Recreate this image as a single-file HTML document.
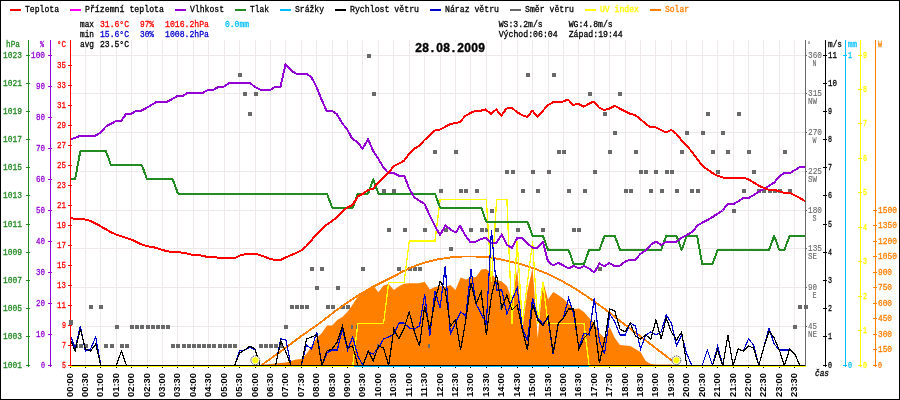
<!DOCTYPE html>
<html lang="cs"><head><meta charset="utf-8"><title>Graf 28.08.2009</title>
<style>html,body{margin:0;padding:0;background:#fff}svg{display:block}</style></head>
<body>
<svg width="900" height="400" viewBox="0 0 900 400">
<rect x="0" y="0" width="900" height="400" fill="#fff"/>
<g shape-rendering="crispEdges" stroke="#eee8e8" stroke-width="1">
<line x1="85.5" y1="40" x2="85.5" y2="365"/>
<line x1="100.5" y1="40" x2="100.5" y2="365"/>
<line x1="116.5" y1="40" x2="116.5" y2="365"/>
<line x1="131.5" y1="40" x2="131.5" y2="365"/>
<line x1="147.5" y1="40" x2="147.5" y2="365"/>
<line x1="162.5" y1="40" x2="162.5" y2="365"/>
<line x1="177.5" y1="40" x2="177.5" y2="365"/>
<line x1="193.5" y1="40" x2="193.5" y2="365"/>
<line x1="208.5" y1="40" x2="208.5" y2="365"/>
<line x1="224.5" y1="40" x2="224.5" y2="365"/>
<line x1="239.5" y1="40" x2="239.5" y2="365"/>
<line x1="255.5" y1="40" x2="255.5" y2="365"/>
<line x1="270.5" y1="40" x2="270.5" y2="365"/>
<line x1="285.5" y1="40" x2="285.5" y2="365"/>
<line x1="301.5" y1="40" x2="301.5" y2="365"/>
<line x1="316.5" y1="40" x2="316.5" y2="365"/>
<line x1="332.5" y1="40" x2="332.5" y2="365"/>
<line x1="347.5" y1="40" x2="347.5" y2="365"/>
<line x1="362.5" y1="40" x2="362.5" y2="365"/>
<line x1="378.5" y1="40" x2="378.5" y2="365"/>
<line x1="393.5" y1="40" x2="393.5" y2="365"/>
<line x1="409.5" y1="40" x2="409.5" y2="365"/>
<line x1="424.5" y1="40" x2="424.5" y2="365"/>
<line x1="440.5" y1="40" x2="440.5" y2="365"/>
<line x1="455.5" y1="40" x2="455.5" y2="365"/>
<line x1="470.5" y1="40" x2="470.5" y2="365"/>
<line x1="486.5" y1="40" x2="486.5" y2="365"/>
<line x1="501.5" y1="40" x2="501.5" y2="365"/>
<line x1="517.5" y1="40" x2="517.5" y2="365"/>
<line x1="532.5" y1="40" x2="532.5" y2="365"/>
<line x1="548.5" y1="40" x2="548.5" y2="365"/>
<line x1="563.5" y1="40" x2="563.5" y2="365"/>
<line x1="578.5" y1="40" x2="578.5" y2="365"/>
<line x1="594.5" y1="40" x2="594.5" y2="365"/>
<line x1="609.5" y1="40" x2="609.5" y2="365"/>
<line x1="625.5" y1="40" x2="625.5" y2="365"/>
<line x1="640.5" y1="40" x2="640.5" y2="365"/>
<line x1="655.5" y1="40" x2="655.5" y2="365"/>
<line x1="671.5" y1="40" x2="671.5" y2="365"/>
<line x1="686.5" y1="40" x2="686.5" y2="365"/>
<line x1="702.5" y1="40" x2="702.5" y2="365"/>
<line x1="717.5" y1="40" x2="717.5" y2="365"/>
<line x1="733.5" y1="40" x2="733.5" y2="365"/>
<line x1="748.5" y1="40" x2="748.5" y2="365"/>
<line x1="763.5" y1="40" x2="763.5" y2="365"/>
<line x1="779.5" y1="40" x2="779.5" y2="365"/>
<line x1="794.5" y1="40" x2="794.5" y2="365"/>
<line x1="71" y1="326.5" x2="805" y2="326.5"/>
<line x1="71" y1="287.5" x2="805" y2="287.5"/>
<line x1="71" y1="248.5" x2="805" y2="248.5"/>
<line x1="71" y1="210.5" x2="805" y2="210.5"/>
<line x1="71" y1="171.5" x2="805" y2="171.5"/>
<line x1="71" y1="132.5" x2="805" y2="132.5"/>
<line x1="71" y1="93.5" x2="805" y2="93.5"/>
<line x1="71" y1="55.5" x2="805" y2="55.5"/>
</g>
<rect x="413" y="42" width="73" height="11" fill="#fff"/>
<g fill="#696969" shape-rendering="crispEdges">
<rect x="69" y="320" width="4" height="5"/>
<rect x="74" y="344" width="4" height="4"/>
<rect x="79" y="344" width="4" height="4"/>
<rect x="84" y="344" width="4" height="4"/>
<rect x="89" y="305" width="4" height="4"/>
<rect x="99" y="305" width="4" height="4"/>
<rect x="104" y="344" width="4" height="4"/>
<rect x="110" y="344" width="4" height="4"/>
<rect x="115" y="325" width="4" height="4"/>
<rect x="120" y="344" width="4" height="4"/>
<rect x="125" y="344" width="4" height="4"/>
<rect x="130" y="325" width="4" height="4"/>
<rect x="135" y="325" width="4" height="4"/>
<rect x="140" y="325" width="4" height="4"/>
<rect x="146" y="325" width="4" height="4"/>
<rect x="151" y="325" width="4" height="4"/>
<rect x="156" y="325" width="4" height="4"/>
<rect x="161" y="325" width="4" height="4"/>
<rect x="166" y="325" width="4" height="4"/>
<rect x="171" y="344" width="4" height="4"/>
<rect x="176" y="344" width="4" height="4"/>
<rect x="182" y="344" width="4" height="4"/>
<rect x="187" y="344" width="4" height="4"/>
<rect x="192" y="344" width="4" height="4"/>
<rect x="197" y="344" width="4" height="4"/>
<rect x="202" y="344" width="4" height="4"/>
<rect x="207" y="344" width="4" height="4"/>
<rect x="212" y="344" width="4" height="4"/>
<rect x="218" y="344" width="4" height="4"/>
<rect x="223" y="344" width="4" height="4"/>
<rect x="228" y="344" width="4" height="4"/>
<rect x="233" y="344" width="4" height="4"/>
<rect x="238" y="73" width="4" height="4"/>
<rect x="243" y="92" width="4" height="4"/>
<rect x="248" y="112" width="4" height="4"/>
<rect x="254" y="92" width="4" height="4"/>
<rect x="259" y="344" width="4" height="4"/>
<rect x="264" y="344" width="4" height="4"/>
<rect x="269" y="344" width="4" height="4"/>
<rect x="274" y="344" width="4" height="4"/>
<rect x="279" y="344" width="4" height="4"/>
<rect x="284" y="325" width="4" height="4"/>
<rect x="290" y="305" width="4" height="4"/>
<rect x="295" y="305" width="4" height="4"/>
<rect x="300" y="305" width="4" height="4"/>
<rect x="305" y="305" width="4" height="4"/>
<rect x="310" y="267" width="4" height="4"/>
<rect x="315" y="286" width="4" height="4"/>
<rect x="320" y="267" width="4" height="4"/>
<rect x="326" y="305" width="4" height="4"/>
<rect x="331" y="305" width="4" height="4"/>
<rect x="336" y="286" width="4" height="4"/>
<rect x="341" y="305" width="4" height="4"/>
<rect x="346" y="305" width="4" height="4"/>
<rect x="351" y="325" width="4" height="4"/>
<rect x="356" y="325" width="4" height="4"/>
<rect x="361" y="267" width="4" height="4"/>
<rect x="367" y="54" width="4" height="4"/>
<rect x="372" y="92" width="4" height="4"/>
<rect x="377" y="344" width="4" height="4"/>
<rect x="382" y="189" width="4" height="4"/>
<rect x="387" y="228" width="4" height="4"/>
<rect x="392" y="189" width="4" height="4"/>
<rect x="397" y="267" width="4" height="4"/>
<rect x="403" y="228" width="4" height="4"/>
<rect x="408" y="267" width="4" height="4"/>
<rect x="413" y="267" width="4" height="4"/>
<rect x="418" y="267" width="4" height="4"/>
<rect x="423" y="228" width="4" height="4"/>
<rect x="428" y="344" width="4" height="4"/>
<rect x="433" y="150" width="4" height="4"/>
<rect x="439" y="189" width="4" height="4"/>
<rect x="444" y="228" width="4" height="4"/>
<rect x="449" y="247" width="4" height="4"/>
<rect x="454" y="150" width="4" height="4"/>
<rect x="459" y="189" width="4" height="4"/>
<rect x="464" y="189" width="4" height="4"/>
<rect x="469" y="228" width="4" height="4"/>
<rect x="475" y="189" width="4" height="4"/>
<rect x="480" y="228" width="4" height="4"/>
<rect x="485" y="228" width="4" height="4"/>
<rect x="490" y="209" width="4" height="4"/>
<rect x="495" y="228" width="4" height="4"/>
<rect x="500" y="305" width="4" height="4"/>
<rect x="505" y="170" width="4" height="4"/>
<rect x="511" y="170" width="4" height="4"/>
<rect x="516" y="228" width="4" height="4"/>
<rect x="521" y="189" width="4" height="4"/>
<rect x="526" y="73" width="4" height="4"/>
<rect x="531" y="170" width="4" height="4"/>
<rect x="536" y="189" width="4" height="4"/>
<rect x="541" y="228" width="4" height="4"/>
<rect x="547" y="170" width="4" height="4"/>
<rect x="552" y="73" width="4" height="4"/>
<rect x="557" y="150" width="4" height="4"/>
<rect x="562" y="150" width="4" height="4"/>
<rect x="567" y="189" width="4" height="4"/>
<rect x="572" y="228" width="4" height="4"/>
<rect x="577" y="228" width="4" height="4"/>
<rect x="583" y="189" width="4" height="4"/>
<rect x="588" y="92" width="4" height="4"/>
<rect x="593" y="170" width="4" height="4"/>
<rect x="598" y="267" width="4" height="4"/>
<rect x="603" y="112" width="4" height="4"/>
<rect x="608" y="150" width="4" height="4"/>
<rect x="613" y="131" width="4" height="4"/>
<rect x="618" y="92" width="4" height="4"/>
<rect x="624" y="189" width="4" height="4"/>
<rect x="629" y="189" width="4" height="4"/>
<rect x="634" y="150" width="4" height="4"/>
<rect x="639" y="170" width="4" height="4"/>
<rect x="644" y="170" width="4" height="4"/>
<rect x="649" y="189" width="4" height="4"/>
<rect x="654" y="170" width="4" height="4"/>
<rect x="660" y="189" width="4" height="4"/>
<rect x="665" y="170" width="4" height="4"/>
<rect x="670" y="170" width="4" height="4"/>
<rect x="675" y="189" width="4" height="4"/>
<rect x="680" y="150" width="4" height="4"/>
<rect x="685" y="131" width="4" height="4"/>
<rect x="690" y="189" width="4" height="4"/>
<rect x="696" y="189" width="4" height="4"/>
<rect x="701" y="131" width="4" height="4"/>
<rect x="706" y="112" width="4" height="4"/>
<rect x="711" y="150" width="4" height="4"/>
<rect x="716" y="170" width="4" height="4"/>
<rect x="721" y="131" width="4" height="4"/>
<rect x="726" y="150" width="4" height="4"/>
<rect x="732" y="209" width="4" height="4"/>
<rect x="737" y="112" width="4" height="4"/>
<rect x="742" y="189" width="4" height="4"/>
<rect x="747" y="150" width="4" height="4"/>
<rect x="752" y="170" width="4" height="4"/>
<rect x="757" y="189" width="4" height="4"/>
<rect x="762" y="189" width="4" height="4"/>
<rect x="768" y="189" width="4" height="4"/>
<rect x="773" y="189" width="4" height="4"/>
<rect x="778" y="189" width="4" height="4"/>
<rect x="783" y="150" width="4" height="4"/>
<rect x="788" y="189" width="4" height="4"/>
<rect x="793" y="325" width="4" height="4"/>
<rect x="798" y="305" width="4" height="4"/>
<rect x="804" y="305" width="4" height="4"/>
</g>
<polygon points="260.18,366.00 260.18,365.00 265.32,364.50 270.46,364.00 275.60,363.50 280.74,363.00 285.88,362.50 291.02,361.00 296.16,359.50 301.30,359.00 306.44,354.00 311.58,346.00 316.72,338.00 321.86,333.00 327.00,325.60 332.14,325.60 337.28,320.00 342.42,317.00 347.56,311.75 352.70,304.50 357.84,296.75 362.98,292.25 368.12,288.50 373.26,285.50 378.40,292.25 383.54,285.50 388.68,284.00 393.82,290.00 398.96,286.25 404.10,283.70 409.24,283.25 414.38,283.25 419.52,283.25 424.66,281.75 429.80,289.40 434.94,287.00 440.08,286.00 445.22,287.00 450.36,285.00 455.50,290.00 460.64,277.50 465.78,279.40 470.92,277.50 476.06,277.00 481.20,269.40 486.34,269.00 491.48,273.00 496.62,280.00 501.76,281.50 506.90,286.00 512.04,300.00 517.18,269.50 522.32,329.50 527.46,290.50 532.60,268.00 537.74,338.50 542.88,280.75 548.02,299.50 553.16,292.00 558.30,295.00 563.44,298.75 568.58,304.00 573.72,309.00 578.86,308.50 584.00,312.00 589.14,318.00 594.28,323.00 599.42,333.00 604.56,338.00 609.70,327.00 614.84,338.00 619.98,345.00 625.12,345.50 630.26,346.00 635.40,349.00 640.54,352.00 645.68,361.00 650.82,364.00 655.96,364.50 661.10,364.50 666.24,364.50 671.38,364.50 676.52,365.50 676.52,366.00" fill="#ff7f00"/>
<g fill="#696969" shape-rendering="crispEdges"><rect x="351" y="325" width="2" height="4"/><rect x="356" y="325" width="2" height="4"/><rect x="377" y="344" width="2" height="5"/><rect x="428" y="344" width="2" height="4"/><rect x="500" y="305" width="2" height="4"/></g>
<rect x="70" y="366" width="736" height="1" fill="#00bfff" shape-rendering="crispEdges"/>
<polyline points="261.00,365.50 280.00,352.00 300.00,337.00 320.00,323.00 335.00,311.25 347.50,302.50 360.00,294.25 372.50,287.00 385.00,280.75 397.50,274.50 400.00,272.70 412.50,266.90 425.00,262.50 437.50,259.40 450.00,257.50 462.50,256.50 475.00,256.50 487.50,257.25 497.50,258.75 510.00,261.50 522.50,264.70 535.00,268.75 547.50,273.75 560.00,280.00 572.50,287.00 585.00,295.00 597.50,303.75 610.00,313.00 620.00,321.00 640.00,336.00 660.00,351.50 676.50,364.00" fill="none" stroke="#ff7f00" stroke-width="1.9" shape-rendering="crispEdges"/>
<polyline points="70.00,366.00 75.14,366.00 80.28,366.00 85.42,366.00 90.56,366.00 95.70,366.00 100.84,366.00 105.98,366.00 111.12,366.00 116.26,366.00 121.40,366.00 126.54,366.00 131.68,366.00 136.82,366.00 141.96,366.00 147.10,366.00 152.24,366.00 157.38,366.00 162.52,366.00 167.66,366.00 172.80,366.00 177.94,366.00 183.08,366.00 188.22,366.00 193.36,366.00 198.50,366.00 203.64,366.00 208.78,366.00 213.92,366.00 219.06,366.00 224.20,366.00 229.34,366.00 234.48,366.00 239.62,366.00 244.76,366.00 249.90,366.00 255.04,366.00 260.18,366.00 265.32,366.00 270.46,366.00 275.60,366.00 280.74,366.00 285.88,366.00 291.02,366.00 296.16,366.00 301.30,366.00 306.44,366.00 311.58,366.00 316.72,366.00 321.86,366.00 327.00,366.00 332.14,366.00 337.28,366.00 342.42,366.00 347.56,366.00 352.70,366.00 357.84,323.67 362.98,323.67 368.12,323.67 373.26,323.67 378.40,323.67 383.54,323.67 388.68,282.34 393.82,282.34 398.96,282.34 404.10,282.34 409.24,241.01 414.38,241.01 419.52,241.01 424.66,241.01 429.80,241.01 434.94,241.01 440.08,199.68 445.22,199.68 450.36,199.68 455.50,199.68 460.64,199.68 465.78,199.68 470.92,199.68 476.06,199.68 481.20,199.68 486.34,199.68 491.48,282.34 496.62,199.68 501.76,199.68 506.90,199.68 512.04,323.67 517.18,241.01 522.32,323.67 527.46,282.34 532.60,241.01 537.74,323.67 542.88,282.34 548.02,323.67 553.16,323.67 558.30,323.67 563.44,323.67 568.58,323.67 573.72,323.67 578.86,323.67 584.00,323.67 589.14,366.00 594.28,366.00 599.42,366.00 604.56,366.00 609.70,366.00 614.84,366.00 619.98,366.00 625.12,366.00 630.26,366.00 635.40,366.00 640.54,366.00 645.68,366.00 650.82,366.00 655.96,366.00 661.10,366.00 666.24,366.00 671.38,366.00 676.52,366.00 681.66,366.00 686.80,366.00 691.94,366.00 697.08,366.00 702.22,366.00 707.36,366.00 712.50,366.00 717.64,366.00 722.78,366.00 727.92,366.00 733.06,366.00 738.20,366.00 743.34,366.00 748.48,366.00 753.62,366.00 758.76,366.00 763.90,366.00 769.04,366.00 774.18,366.00 779.32,366.00 784.46,366.00 789.60,366.00 794.74,366.00 799.88,366.00 805.02,366.00" fill="none" stroke="#ffff00" stroke-width="1.3" stroke-linejoin="miter" shape-rendering="crispEdges"/>
<polyline points="70.00,179.46 75.14,179.46 80.28,151.28 85.42,151.28 90.56,151.28 95.70,151.28 100.84,151.28 105.98,151.28 111.12,165.37 116.26,165.37 121.40,165.37 126.54,165.37 131.68,165.37 136.82,165.37 141.96,165.37 147.10,179.46 152.24,179.46 157.38,179.46 162.52,179.46 167.66,179.46 172.80,179.46 177.94,193.55 183.08,193.55 188.22,193.55 193.36,193.55 198.50,193.55 203.64,193.55 208.78,193.55 213.92,193.55 219.06,193.55 224.20,193.55 229.34,193.55 234.48,193.55 239.62,193.55 244.76,193.55 249.90,193.55 255.04,193.55 260.18,193.55 265.32,193.55 270.46,193.55 275.60,193.55 280.74,193.55 285.88,193.55 291.02,193.55 296.16,193.55 301.30,193.55 306.44,193.55 311.58,193.55 316.72,193.55 321.86,193.55 327.00,193.55 332.14,207.64 337.28,207.64 342.42,207.64 347.56,207.64 352.70,207.64 357.84,193.55 362.98,193.55 368.12,193.55 373.26,179.46 378.40,193.55 383.54,193.55 388.68,193.55 393.82,193.55 398.96,193.55 404.10,193.55 409.24,193.55 414.38,193.55 419.52,193.55 424.66,193.55 429.80,193.55 434.94,193.55 440.08,207.64 445.22,207.64 450.36,207.64 455.50,207.64 460.64,207.64 465.78,207.64 470.92,207.64 476.06,207.64 481.20,207.64 486.34,221.73 491.48,221.73 496.62,221.73 501.76,221.73 506.90,221.73 512.04,221.73 517.18,221.73 522.32,221.73 527.46,221.73 532.60,235.82 537.74,235.82 542.88,235.82 548.02,249.91 553.16,249.91 558.30,249.91 563.44,249.91 568.58,249.91 573.72,264.00 578.86,264.00 584.00,264.00 589.14,249.91 594.28,249.91 599.42,249.91 604.56,235.82 609.70,235.82 614.84,235.82 619.98,249.91 625.12,249.91 630.26,249.91 635.40,249.91 640.54,249.91 645.68,249.91 650.82,249.91 655.96,249.91 661.10,249.91 666.24,235.82 671.38,235.82 676.52,235.82 681.66,249.91 686.80,235.82 691.94,235.82 697.08,235.82 702.22,264.00 707.36,264.00 712.50,264.00 717.64,249.91 722.78,249.91 727.92,249.91 733.06,249.91 738.20,249.91 743.34,249.91 748.48,249.91 753.62,249.91 758.76,249.91 763.90,249.91 769.04,249.91 774.18,235.82 779.32,249.91 784.46,249.91 789.60,235.82 794.74,235.82 799.88,235.82 805.02,235.82" fill="none" stroke="#228b22" stroke-width="2" stroke-linejoin="round" shape-rendering="crispEdges"/>
<polyline points="70.00,139.25 75.00,138.00 80.00,135.75 95.00,135.75 100.00,133.00 106.25,126.25 111.25,123.75 116.25,120.75 121.25,120.75 126.25,113.75 131.25,113.75 136.25,110.75 141.25,110.75 147.25,107.50 152.25,104.50 157.50,101.50 167.50,101.50 172.75,98.75 178.00,95.75 183.00,95.75 188.25,92.50 203.50,92.50 208.75,89.50 214.00,89.50 219.00,86.50 224.25,86.50 229.25,83.00 250.00,83.00 255.00,87.00 260.00,89.50 270.00,90.00 275.50,86.75 280.50,86.75 285.50,64.50 291.25,70.50 296.25,73.75 306.25,73.75 311.25,77.00 316.25,86.25 321.25,98.75 326.50,110.75 331.75,110.75 336.75,114.00 342.00,123.00 347.00,129.25 352.50,139.00 357.50,142.00 362.50,148.75 368.00,139.25 373.25,151.25 378.25,158.75 383.25,167.00 388.25,173.00 393.75,173.00 398.75,175.75 404.25,175.75 409.25,188.75 414.25,197.50 419.50,200.75 424.50,203.75 430.00,216.25 435.00,226.25 440.00,235.00 445.50,225.50 451.00,230.00 456.00,232.50 460.00,225.50 465.00,235.00 470.00,241.75 475.50,241.75 481.20,238.75 486.34,238.00 491.48,243.25 496.62,242.50 501.76,234.50 506.90,245.00 512.04,247.75 517.18,238.00 522.32,238.00 527.46,243.50 532.60,247.75 537.74,247.75 542.88,241.75 548.02,261.50 553.16,265.50 558.30,262.75 563.44,265.50 568.58,268.50 573.72,265.75 578.86,268.50 584.00,266.00 589.14,268.50 594.28,272.50 599.42,263.50 604.25,266.25 609.25,263.00 614.75,266.25 620.00,265.50 625.00,261.75 630.00,259.50 635.50,259.50 640.50,253.75 645.50,250.50 651.25,244.25 656.25,241.75 661.25,245.00 666.25,241.75 676.25,241.75 681.25,238.00 686.75,235.00 692.50,231.75 697.50,225.50 702.50,222.50 707.50,220.00 712.50,217.00 717.50,213.75 722.50,210.50 727.50,204.25 733.00,204.25 738.25,201.25 743.25,198.00 748.75,198.00 753.75,195.00 758.75,191.75 764.25,188.75 769.25,185.75 774.25,182.50 779.50,176.25 784.50,173.00 790.00,173.00 795.00,170.00 800.00,167.00 805.00,167.00" fill="none" stroke="#9400d3" stroke-width="2" stroke-linejoin="round" shape-rendering="crispEdges"/>
<polyline points="70.00,218.00 75.00,218.75 82.50,218.75 90.00,220.75 97.50,224.50 106.25,229.50 111.25,232.50 116.25,234.50 121.25,236.25 126.25,238.00 131.25,239.50 136.25,242.00 141.25,244.25 147.50,246.25 152.50,247.00 157.50,248.25 162.50,250.00 167.50,251.25 172.50,252.00 178.25,252.00 183.25,253.00 188.25,253.75 193.25,255.00 198.75,255.00 203.75,256.25 208.75,257.00 214.25,257.00 219.25,258.00 235.00,258.00 240.00,255.50 247.50,253.75 255.00,253.75 260.00,255.00 265.00,257.00 270.00,258.75 275.50,260.00 280.50,260.00 285.50,257.50 291.25,255.00 296.25,253.00 301.25,250.50 306.25,246.25 311.25,240.50 316.25,234.50 321.25,229.50 326.25,225.00 332.50,220.75 335.00,218.75 342.50,211.25 347.50,207.50 352.50,205.00 358.00,196.25 363.00,193.75 368.00,190.00 373.00,188.75 378.25,182.50 383.25,177.50 388.25,173.00 393.75,166.25 398.75,163.75 404.25,160.50 409.25,153.75 414.25,148.75 419.50,145.50 424.50,140.00 430.00,135.00 435.00,130.50 440.00,129.50 450.00,124.25 460.00,122.00 465.00,116.25 470.00,113.25 475.50,110.75 480.50,110.75 485.50,109.50 491.00,113.75 496.25,109.50 501.25,115.75 506.25,108.75 511.75,107.50 516.75,112.00 521.75,115.00 527.00,117.00 532.50,110.75 537.50,117.00 542.50,111.25 547.50,105.50 552.50,102.50 557.50,101.50 563.00,101.50 568.00,99.50 573.25,105.00 578.25,103.75 583.75,106.75 588.75,103.75 594.00,101.50 599.00,107.50 604.25,110.00 609.25,108.75 614.75,105.75 620.00,108.75 625.00,111.25 630.00,113.75 635.00,115.00 640.00,118.75 645.00,123.25 650.00,127.00 655.00,127.00 660.00,129.50 666.25,132.50 671.25,130.00 676.25,133.75 681.25,140.00 686.25,145.00 692.50,152.50 697.50,159.50 702.50,165.75 707.50,169.50 712.50,173.00 717.50,175.75 723.00,177.50 743.75,177.50 748.75,179.50 753.75,182.50 758.75,185.75 764.25,188.00 769.25,190.00 774.25,190.00 779.50,191.25 784.50,193.00 790.00,193.00 795.00,195.50 800.00,198.00 805.00,201.25" fill="none" stroke="#ff0000" stroke-width="2" stroke-linejoin="round" shape-rendering="crispEdges"/>
<polyline points="70.00,334.00 75.14,349.00 80.28,326.00 85.42,351.00 90.56,349.00 95.70,337.00 100.84,365.50 105.98,365.50 111.12,365.50 116.26,365.50 121.40,351.00 126.54,365.50 131.68,365.50 136.82,365.50 141.96,365.50 147.10,365.50 152.24,365.50 157.38,365.50 162.52,365.50 167.66,365.50 172.80,365.50 177.94,365.50 183.08,365.50 188.22,365.50 193.36,365.50 198.50,365.50 203.64,365.50 208.78,365.50 213.92,365.50 219.06,365.50 224.20,365.50 229.34,365.50 234.48,365.50 239.62,351.00 244.76,350.00 249.90,347.00 255.04,350.00 260.18,365.50 265.32,365.50 270.46,365.50 275.60,365.50 280.74,339.00 285.88,339.60 291.02,365.50 296.16,365.50 301.30,365.50 306.44,345.00 311.58,349.00 316.72,332.00 321.86,365.50 327.00,353.00 332.14,350.00 337.28,350.00 342.42,329.00 347.56,350.00 352.70,337.00 357.84,356.00 362.98,365.50 368.12,352.00 373.26,354.00 378.40,348.00 383.54,339.00 388.68,337.00 393.82,334.00 398.96,323.00 404.10,323.00 409.24,328.00 414.38,329.00 419.52,326.00 424.66,294.40 429.80,336.00 434.94,291.00 440.08,308.00 445.22,266.00 450.36,334.00 455.50,323.00 460.64,312.00 465.78,316.00 470.92,269.40 476.06,304.00 481.20,314.00 486.34,323.00 491.48,229.70 496.62,290.00 501.76,290.00 506.90,314.00 512.04,300.00 517.18,288.00 522.32,328.00 527.46,341.00 532.60,298.00 537.74,318.00 542.88,324.00 548.02,318.00 553.16,354.00 558.30,324.00 563.44,318.00 568.58,298.00 573.72,314.00 578.86,348.00 584.00,333.00 589.14,335.00 594.28,298.00 599.42,341.00 604.56,354.00 609.70,314.00 614.84,322.00 619.98,335.00 625.12,335.00 630.26,323.00 635.40,326.00 640.54,349.00 645.68,335.00 650.82,332.00 655.96,335.00 661.10,332.00 666.24,315.00 671.38,323.00 676.52,346.00 681.66,335.00 686.80,354.00 691.94,365.50 697.08,365.50 702.22,365.50 707.36,350.00 712.50,365.50 717.64,346.00 722.78,365.50 727.92,335.00 733.06,365.50 738.20,349.00 743.34,351.00 748.48,339.00 753.62,345.00 758.76,365.50 763.90,347.00 769.04,328.00 774.18,344.00 779.32,350.00 784.46,350.00 789.60,350.00 794.74,354.00 799.88,365.50 805.02,365.50" fill="none" stroke="#0000cd" stroke-width="1.2" stroke-linejoin="miter" shape-rendering="crispEdges"/>
<polyline points="70.00,339.00 75.14,351.00 80.28,329.00 85.42,349.00 90.56,351.00 95.70,344.00 100.84,365.50 105.98,365.50 111.12,365.50 116.26,365.50 121.40,351.00 126.54,365.50 131.68,365.50 136.82,365.50 141.96,365.50 147.10,365.50 152.24,365.50 157.38,365.50 162.52,365.50 167.66,365.50 172.80,365.50 177.94,365.50 183.08,365.50 188.22,365.50 193.36,365.50 198.50,365.50 203.64,365.50 208.78,365.50 213.92,365.50 219.06,365.50 224.20,365.50 229.34,365.50 234.48,365.50 239.62,353.00 244.76,350.00 249.90,346.00 255.04,349.00 260.18,365.50 265.32,365.50 270.46,365.50 275.60,365.50 280.74,341.00 285.88,352.00 291.02,365.50 296.16,365.50 301.30,365.50 306.44,339.00 311.58,337.00 316.72,335.00 321.86,365.50 327.00,351.00 332.14,349.00 337.28,342.00 342.42,326.00 347.56,348.00 352.70,346.00 357.84,365.50 362.98,365.50 368.12,351.00 373.26,361.00 378.40,346.00 383.54,348.00 388.68,365.50 393.82,329.00 398.96,339.00 404.10,328.00 409.24,312.00 414.38,332.00 419.52,346.00 424.66,306.00 429.80,329.00 434.94,301.00 440.08,281.00 445.22,290.00 450.36,326.00 455.50,320.00 460.64,350.00 465.78,320.00 470.92,283.00 476.06,304.00 481.20,292.00 486.34,335.00 491.48,296.00 496.62,275.00 501.76,308.00 506.90,295.00 512.04,310.00 517.18,305.00 522.32,330.00 527.46,350.00 532.60,304.00 537.74,320.00 542.88,326.00 548.02,316.00 553.16,353.00 558.30,323.00 563.44,318.00 568.58,309.00 573.72,309.00 578.86,349.00 584.00,338.00 589.14,333.00 594.28,322.00 599.42,363.00 604.56,340.00 609.70,309.00 614.84,311.00 619.98,329.00 625.12,332.00 630.26,323.00 635.40,336.00 640.54,339.00 645.68,335.00 650.82,339.00 655.96,320.00 661.10,339.00 666.24,318.00 671.38,332.00 676.52,340.00 681.66,332.00 686.80,365.50 691.94,365.50 697.08,365.50 702.22,365.50 707.36,365.50 712.50,365.50 717.64,350.00 722.78,365.50 727.92,335.00 733.06,365.50 738.20,349.00 743.34,351.00 748.48,346.00 753.62,348.00 758.76,365.50 763.90,347.00 769.04,331.00 774.18,338.00 779.32,350.00 784.46,365.50 789.60,349.00 794.74,354.00 799.88,365.50 805.02,365.50" fill="none" stroke="#000000" stroke-width="1.2" stroke-linejoin="miter" shape-rendering="crispEdges"/>
<g shape-rendering="crispEdges" fill="#ffff00"><rect x="70" y="366" width="284" height="1"/><rect x="589" y="366" width="217" height="1"/></g>
<circle cx="255.3" cy="360.3" r="4.4" fill="#fff" stroke="#000" stroke-width="0.8" stroke-dasharray="1.3 0.9"/>
<circle cx="255.3" cy="360.3" r="3.1" fill="#ffff00"/>
<circle cx="676.4" cy="360.3" r="4.4" fill="#fff" stroke="#000" stroke-width="0.8" stroke-dasharray="1.3 0.9"/>
<circle cx="676.4" cy="360.3" r="3.1" fill="#ffff00"/>
<g shape-rendering="crispEdges">
<rect x="70" y="365" width="736" height="1" fill="#000"/>
<rect x="70" y="367" width="1" height="1" fill="#000"/>
<rect x="85" y="367" width="1" height="1" fill="#000"/>
<rect x="100" y="367" width="1" height="1" fill="#000"/>
<rect x="116" y="367" width="1" height="1" fill="#000"/>
<rect x="131" y="367" width="1" height="1" fill="#000"/>
<rect x="147" y="367" width="1" height="1" fill="#000"/>
<rect x="162" y="367" width="1" height="1" fill="#000"/>
<rect x="177" y="367" width="1" height="1" fill="#000"/>
<rect x="193" y="367" width="1" height="1" fill="#000"/>
<rect x="208" y="367" width="1" height="1" fill="#000"/>
<rect x="224" y="367" width="1" height="1" fill="#000"/>
<rect x="239" y="367" width="1" height="1" fill="#000"/>
<rect x="255" y="367" width="1" height="1" fill="#000"/>
<rect x="270" y="367" width="1" height="1" fill="#000"/>
<rect x="285" y="367" width="1" height="1" fill="#000"/>
<rect x="301" y="367" width="1" height="1" fill="#000"/>
<rect x="316" y="367" width="1" height="1" fill="#000"/>
<rect x="332" y="367" width="1" height="1" fill="#000"/>
<rect x="347" y="367" width="1" height="1" fill="#000"/>
<rect x="362" y="367" width="1" height="1" fill="#000"/>
<rect x="378" y="367" width="1" height="1" fill="#000"/>
<rect x="393" y="367" width="1" height="1" fill="#000"/>
<rect x="409" y="367" width="1" height="1" fill="#000"/>
<rect x="424" y="367" width="1" height="1" fill="#000"/>
<rect x="440" y="367" width="1" height="1" fill="#000"/>
<rect x="455" y="367" width="1" height="1" fill="#000"/>
<rect x="470" y="367" width="1" height="1" fill="#000"/>
<rect x="486" y="367" width="1" height="1" fill="#000"/>
<rect x="501" y="367" width="1" height="1" fill="#000"/>
<rect x="517" y="367" width="1" height="1" fill="#000"/>
<rect x="532" y="367" width="1" height="1" fill="#000"/>
<rect x="548" y="367" width="1" height="1" fill="#000"/>
<rect x="563" y="367" width="1" height="1" fill="#000"/>
<rect x="578" y="367" width="1" height="1" fill="#000"/>
<rect x="594" y="367" width="1" height="1" fill="#000"/>
<rect x="609" y="367" width="1" height="1" fill="#000"/>
<rect x="625" y="367" width="1" height="1" fill="#000"/>
<rect x="640" y="367" width="1" height="1" fill="#000"/>
<rect x="655" y="367" width="1" height="1" fill="#000"/>
<rect x="671" y="367" width="1" height="1" fill="#000"/>
<rect x="686" y="367" width="1" height="1" fill="#000"/>
<rect x="702" y="367" width="1" height="1" fill="#000"/>
<rect x="717" y="367" width="1" height="1" fill="#000"/>
<rect x="733" y="367" width="1" height="1" fill="#000"/>
<rect x="748" y="367" width="1" height="1" fill="#000"/>
<rect x="763" y="367" width="1" height="1" fill="#000"/>
<rect x="779" y="367" width="1" height="1" fill="#000"/>
<rect x="794" y="367" width="1" height="1" fill="#000"/>
<rect x="28" y="40" width="1" height="327" fill="#228b22"/>
<rect x="26" y="365" width="4" height="1" fill="#228b22"/>
<rect x="26" y="336" width="4" height="1" fill="#228b22"/>
<rect x="26" y="308" width="4" height="1" fill="#228b22"/>
<rect x="26" y="280" width="4" height="1" fill="#228b22"/>
<rect x="26" y="252" width="4" height="1" fill="#228b22"/>
<rect x="26" y="224" width="4" height="1" fill="#228b22"/>
<rect x="26" y="195" width="4" height="1" fill="#228b22"/>
<rect x="26" y="167" width="4" height="1" fill="#228b22"/>
<rect x="26" y="139" width="4" height="1" fill="#228b22"/>
<rect x="26" y="111" width="4" height="1" fill="#228b22"/>
<rect x="26" y="83" width="4" height="1" fill="#228b22"/>
<rect x="26" y="55" width="4" height="1" fill="#228b22"/>
<rect x="50" y="40" width="1" height="327" fill="#9400d3"/>
<rect x="48" y="365" width="4" height="1" fill="#9400d3"/>
<rect x="48" y="334" width="4" height="1" fill="#9400d3"/>
<rect x="48" y="303" width="4" height="1" fill="#9400d3"/>
<rect x="48" y="272" width="4" height="1" fill="#9400d3"/>
<rect x="48" y="241" width="4" height="1" fill="#9400d3"/>
<rect x="48" y="210" width="4" height="1" fill="#9400d3"/>
<rect x="48" y="179" width="4" height="1" fill="#9400d3"/>
<rect x="48" y="148" width="4" height="1" fill="#9400d3"/>
<rect x="48" y="117" width="4" height="1" fill="#9400d3"/>
<rect x="48" y="86" width="4" height="1" fill="#9400d3"/>
<rect x="48" y="55" width="4" height="1" fill="#9400d3"/>
<rect x="70" y="40" width="1" height="326" fill="#ff0000"/>
<rect x="68" y="365" width="4" height="1" fill="#ff0000"/>
<rect x="68" y="345" width="4" height="1" fill="#ff0000"/>
<rect x="68" y="325" width="4" height="1" fill="#ff0000"/>
<rect x="68" y="305" width="4" height="1" fill="#ff0000"/>
<rect x="68" y="285" width="4" height="1" fill="#ff0000"/>
<rect x="68" y="265" width="4" height="1" fill="#ff0000"/>
<rect x="68" y="245" width="4" height="1" fill="#ff0000"/>
<rect x="68" y="225" width="4" height="1" fill="#ff0000"/>
<rect x="68" y="205" width="4" height="1" fill="#ff0000"/>
<rect x="68" y="185" width="4" height="1" fill="#ff0000"/>
<rect x="68" y="165" width="4" height="1" fill="#ff0000"/>
<rect x="68" y="145" width="4" height="1" fill="#ff0000"/>
<rect x="68" y="125" width="4" height="1" fill="#ff0000"/>
<rect x="68" y="105" width="4" height="1" fill="#ff0000"/>
<rect x="68" y="85" width="4" height="1" fill="#ff0000"/>
<rect x="68" y="65" width="4" height="1" fill="#ff0000"/>
<rect x="805" y="40" width="1" height="326" fill="#696969"/>
<rect x="806" y="326" width="1" height="1" fill="#696969"/>
<rect x="806" y="287" width="1" height="1" fill="#696969"/>
<rect x="806" y="248" width="1" height="1" fill="#696969"/>
<rect x="806" y="210" width="1" height="1" fill="#696969"/>
<rect x="806" y="171" width="1" height="1" fill="#696969"/>
<rect x="806" y="132" width="1" height="1" fill="#696969"/>
<rect x="806" y="93" width="1" height="1" fill="#696969"/>
<rect x="806" y="55" width="1" height="1" fill="#696969"/>
<rect x="825" y="40" width="1" height="327" fill="#000000"/>
<rect x="823" y="365" width="4" height="1" fill="#000000"/>
<rect x="823" y="336" width="4" height="1" fill="#000000"/>
<rect x="823" y="308" width="4" height="1" fill="#000000"/>
<rect x="823" y="280" width="4" height="1" fill="#000000"/>
<rect x="823" y="252" width="4" height="1" fill="#000000"/>
<rect x="823" y="224" width="4" height="1" fill="#000000"/>
<rect x="823" y="195" width="4" height="1" fill="#000000"/>
<rect x="823" y="167" width="4" height="1" fill="#000000"/>
<rect x="823" y="139" width="4" height="1" fill="#000000"/>
<rect x="823" y="111" width="4" height="1" fill="#000000"/>
<rect x="823" y="83" width="4" height="1" fill="#000000"/>
<rect x="823" y="55" width="4" height="1" fill="#000000"/>
<rect x="845" y="40" width="1" height="327" fill="#00bfff"/>
<rect x="843" y="365" width="4" height="1" fill="#00bfff"/>
<rect x="843" y="55" width="4" height="1" fill="#00bfff"/>
<rect x="860" y="40" width="1" height="327" fill="#ffff00"/>
<rect x="858" y="365" width="4" height="1" fill="#ffff00"/>
<rect x="858" y="330" width="4" height="1" fill="#ffff00"/>
<rect x="858" y="296" width="4" height="1" fill="#ffff00"/>
<rect x="858" y="261" width="4" height="1" fill="#ffff00"/>
<rect x="858" y="227" width="4" height="1" fill="#ffff00"/>
<rect x="858" y="192" width="4" height="1" fill="#ffff00"/>
<rect x="858" y="158" width="4" height="1" fill="#ffff00"/>
<rect x="858" y="123" width="4" height="1" fill="#ffff00"/>
<rect x="858" y="89" width="4" height="1" fill="#ffff00"/>
<rect x="858" y="55" width="4" height="1" fill="#ffff00"/>
<rect x="875" y="40" width="1" height="327" fill="#ff7f00"/>
<rect x="873" y="365" width="4" height="1" fill="#ff7f00"/>
<rect x="873" y="349" width="4" height="1" fill="#ff7f00"/>
<rect x="873" y="334" width="4" height="1" fill="#ff7f00"/>
<rect x="873" y="318" width="4" height="1" fill="#ff7f00"/>
<rect x="873" y="303" width="4" height="1" fill="#ff7f00"/>
<rect x="873" y="287" width="4" height="1" fill="#ff7f00"/>
<rect x="873" y="272" width="4" height="1" fill="#ff7f00"/>
<rect x="873" y="256" width="4" height="1" fill="#ff7f00"/>
<rect x="873" y="241" width="4" height="1" fill="#ff7f00"/>
<rect x="873" y="225" width="4" height="1" fill="#ff7f00"/>
<rect x="873" y="210" width="4" height="1" fill="#ff7f00"/>
</g>
<rect x="69" y="320" width="4" height="5" fill="#696969" shape-rendering="crispEdges"/>
<g font-family="'Liberation Mono', monospace" font-size="9.2px" xml:space="preserve" stroke-width="0.3">
<rect x="10" y="9" width="11" height="2" fill="#ff0000" shape-rendering="crispEdges"/>
<text x="25.0" y="12.0" fill="#000000" stroke="#000000" textLength="34" lengthAdjust="spacingAndGlyphs">Teplota</text>
<rect x="70" y="9" width="11" height="2" fill="#ff00ff" shape-rendering="crispEdges"/>
<text x="85.0" y="12.0" fill="#000000" stroke="#000000" textLength="79" lengthAdjust="spacingAndGlyphs">Přízemní teplota</text>
<rect x="175" y="9" width="11" height="2" fill="#9400d3" shape-rendering="crispEdges"/>
<text x="190.0" y="12.0" fill="#000000" stroke="#000000" textLength="34" lengthAdjust="spacingAndGlyphs">Vlhkost</text>
<rect x="235" y="9" width="11" height="2" fill="#228b22" shape-rendering="crispEdges"/>
<text x="250.0" y="12.0" fill="#000000" stroke="#000000" textLength="19" lengthAdjust="spacingAndGlyphs">Tlak</text>
<rect x="280" y="9" width="11" height="2" fill="#00bfff" shape-rendering="crispEdges"/>
<text x="295.0" y="12.0" fill="#000000" stroke="#000000" textLength="29" lengthAdjust="spacingAndGlyphs">Srážky</text>
<rect x="335" y="9" width="11" height="2" fill="#000000" shape-rendering="crispEdges"/>
<text x="350.0" y="12.0" fill="#000000" stroke="#000000" textLength="69" lengthAdjust="spacingAndGlyphs">Rychlost větru</text>
<rect x="430" y="9" width="11" height="2" fill="#0000cd" shape-rendering="crispEdges"/>
<text x="445.0" y="12.0" fill="#000000" stroke="#000000" textLength="54" lengthAdjust="spacingAndGlyphs">Náraz větru</text>
<rect x="510" y="9" width="11" height="2" fill="#696969" shape-rendering="crispEdges"/>
<text x="525.0" y="12.0" fill="#000000" stroke="#000000" textLength="49" lengthAdjust="spacingAndGlyphs">Směr větru</text>
<rect x="585" y="9" width="11" height="2" fill="#ffff00" shape-rendering="crispEdges"/>
<text x="600.0" y="12.0" fill="#ffff00" stroke="#ffff00" textLength="39" lengthAdjust="spacingAndGlyphs">UV index</text>
<rect x="650" y="9" width="11" height="2" fill="#ff7f00" shape-rendering="crispEdges"/>
<text x="665.0" y="12.0" fill="#ff7f00" stroke="#ff7f00" textLength="24" lengthAdjust="spacingAndGlyphs">Solar</text>
<text x="80.0" y="27.0" fill="#000" stroke="#000" textLength="14" lengthAdjust="spacingAndGlyphs">max</text>
<text x="100.0" y="27.0" fill="#ff0000" stroke="#ff0000" textLength="29" lengthAdjust="spacingAndGlyphs">31.6°C</text>
<text x="140.0" y="27.0" fill="#ff0000" stroke="#ff0000" textLength="14" lengthAdjust="spacingAndGlyphs">97%</text>
<text x="165.0" y="27.0" fill="#ff0000" stroke="#ff0000" textLength="44" lengthAdjust="spacingAndGlyphs">1016.2hPa</text>
<text x="225.0" y="27.0" fill="#00bfff" stroke="#00bfff" textLength="24" lengthAdjust="spacingAndGlyphs">0.0mm</text>
<text x="80.0" y="37.0" fill="#000" stroke="#000" textLength="14" lengthAdjust="spacingAndGlyphs">min</text>
<text x="100.0" y="37.0" fill="#0000cd" stroke="#0000cd" textLength="29" lengthAdjust="spacingAndGlyphs">15.6°C</text>
<text x="140.0" y="37.0" fill="#0000cd" stroke="#0000cd" textLength="14" lengthAdjust="spacingAndGlyphs">30%</text>
<text x="165.0" y="37.0" fill="#0000cd" stroke="#0000cd" textLength="44" lengthAdjust="spacingAndGlyphs">1008.2hPa</text>
<text x="80.0" y="47.0" fill="#000" stroke="#000" textLength="14" lengthAdjust="spacingAndGlyphs">avg</text>
<text x="100.0" y="47.0" fill="#000" stroke="#000" textLength="29" lengthAdjust="spacingAndGlyphs">23.5°C</text>
<text x="498.7" y="27.0" fill="#000" stroke="#000" textLength="44" lengthAdjust="spacingAndGlyphs">WS:3.2m/s</text>
<text x="568.7" y="27.0" fill="#000" stroke="#000" textLength="44" lengthAdjust="spacingAndGlyphs">WG:4.8m/s</text>
<text x="498.7" y="37.0" fill="#000" stroke="#000" textLength="59" lengthAdjust="spacingAndGlyphs">Východ:06:04</text>
<text x="568.7" y="37.0" fill="#000" stroke="#000" textLength="54" lengthAdjust="spacingAndGlyphs">Západ:19:44</text>
<text x="6.0" y="47.0" fill="#228b22" stroke="#228b22" textLength="14" lengthAdjust="spacingAndGlyphs">hPa</text>
<text x="40.0" y="47.0" fill="#9400d3" stroke="#9400d3" textLength="4" lengthAdjust="spacingAndGlyphs">%</text>
<text x="57.0" y="47.0" fill="#ff0000" stroke="#ff0000" textLength="9" lengthAdjust="spacingAndGlyphs">°C</text>
<text x="807.0" y="47.0" fill="#696969" stroke="#696969" stroke-width="0.12" textLength="4" lengthAdjust="spacingAndGlyphs">°</text>
<text x="828.0" y="47.0" fill="#000000" stroke="#000000" textLength="14" lengthAdjust="spacingAndGlyphs">m/s</text>
<text x="848.0" y="47.0" fill="#00bfff" stroke="#00bfff" textLength="9" lengthAdjust="spacingAndGlyphs">mm</text>
<text x="878.0" y="47.0" fill="#ff7f00" stroke="#ff7f00" textLength="4" lengthAdjust="spacingAndGlyphs">W</text>
<text x="3.0" y="368.0" fill="#228b22" stroke="#228b22" textLength="19" lengthAdjust="spacingAndGlyphs">1001</text>
<text x="3.0" y="339.0" fill="#228b22" stroke="#228b22" textLength="19" lengthAdjust="spacingAndGlyphs">1003</text>
<text x="3.0" y="311.0" fill="#228b22" stroke="#228b22" textLength="19" lengthAdjust="spacingAndGlyphs">1005</text>
<text x="3.0" y="283.0" fill="#228b22" stroke="#228b22" textLength="19" lengthAdjust="spacingAndGlyphs">1007</text>
<text x="3.0" y="255.0" fill="#228b22" stroke="#228b22" textLength="19" lengthAdjust="spacingAndGlyphs">1009</text>
<text x="3.0" y="227.0" fill="#228b22" stroke="#228b22" textLength="19" lengthAdjust="spacingAndGlyphs">1011</text>
<text x="3.0" y="198.0" fill="#228b22" stroke="#228b22" textLength="19" lengthAdjust="spacingAndGlyphs">1013</text>
<text x="3.0" y="170.0" fill="#228b22" stroke="#228b22" textLength="19" lengthAdjust="spacingAndGlyphs">1015</text>
<text x="3.0" y="142.0" fill="#228b22" stroke="#228b22" textLength="19" lengthAdjust="spacingAndGlyphs">1017</text>
<text x="3.0" y="114.0" fill="#228b22" stroke="#228b22" textLength="19" lengthAdjust="spacingAndGlyphs">1019</text>
<text x="3.0" y="86.0" fill="#228b22" stroke="#228b22" textLength="19" lengthAdjust="spacingAndGlyphs">1021</text>
<text x="3.0" y="58.0" fill="#228b22" stroke="#228b22" textLength="19" lengthAdjust="spacingAndGlyphs">1023</text>
<text x="41.0" y="368.0" fill="#9400d3" stroke="#9400d3" textLength="4" lengthAdjust="spacingAndGlyphs">0</text>
<text x="36.0" y="337.0" fill="#9400d3" stroke="#9400d3" textLength="9" lengthAdjust="spacingAndGlyphs">10</text>
<text x="36.0" y="306.0" fill="#9400d3" stroke="#9400d3" textLength="9" lengthAdjust="spacingAndGlyphs">20</text>
<text x="36.0" y="275.0" fill="#9400d3" stroke="#9400d3" textLength="9" lengthAdjust="spacingAndGlyphs">30</text>
<text x="36.0" y="244.0" fill="#9400d3" stroke="#9400d3" textLength="9" lengthAdjust="spacingAndGlyphs">40</text>
<text x="36.0" y="213.0" fill="#9400d3" stroke="#9400d3" textLength="9" lengthAdjust="spacingAndGlyphs">50</text>
<text x="36.0" y="182.0" fill="#9400d3" stroke="#9400d3" textLength="9" lengthAdjust="spacingAndGlyphs">60</text>
<text x="36.0" y="151.0" fill="#9400d3" stroke="#9400d3" textLength="9" lengthAdjust="spacingAndGlyphs">70</text>
<text x="36.0" y="120.0" fill="#9400d3" stroke="#9400d3" textLength="9" lengthAdjust="spacingAndGlyphs">80</text>
<text x="36.0" y="89.0" fill="#9400d3" stroke="#9400d3" textLength="9" lengthAdjust="spacingAndGlyphs">90</text>
<text x="31.0" y="58.0" fill="#9400d3" stroke="#9400d3" textLength="14" lengthAdjust="spacingAndGlyphs">100</text>
<text x="62.0" y="368.0" fill="#ff0000" stroke="#ff0000" textLength="4" lengthAdjust="spacingAndGlyphs">5</text>
<text x="62.0" y="348.0" fill="#ff0000" stroke="#ff0000" textLength="4" lengthAdjust="spacingAndGlyphs">7</text>
<text x="62.0" y="328.0" fill="#ff0000" stroke="#ff0000" textLength="4" lengthAdjust="spacingAndGlyphs">9</text>
<text x="57.0" y="308.0" fill="#ff0000" stroke="#ff0000" textLength="9" lengthAdjust="spacingAndGlyphs">11</text>
<text x="57.0" y="288.0" fill="#ff0000" stroke="#ff0000" textLength="9" lengthAdjust="spacingAndGlyphs">13</text>
<text x="57.0" y="268.0" fill="#ff0000" stroke="#ff0000" textLength="9" lengthAdjust="spacingAndGlyphs">15</text>
<text x="57.0" y="248.0" fill="#ff0000" stroke="#ff0000" textLength="9" lengthAdjust="spacingAndGlyphs">17</text>
<text x="57.0" y="228.0" fill="#ff0000" stroke="#ff0000" textLength="9" lengthAdjust="spacingAndGlyphs">19</text>
<text x="57.0" y="208.0" fill="#ff0000" stroke="#ff0000" textLength="9" lengthAdjust="spacingAndGlyphs">21</text>
<text x="57.0" y="188.0" fill="#ff0000" stroke="#ff0000" textLength="9" lengthAdjust="spacingAndGlyphs">23</text>
<text x="57.0" y="168.0" fill="#ff0000" stroke="#ff0000" textLength="9" lengthAdjust="spacingAndGlyphs">25</text>
<text x="57.0" y="148.0" fill="#ff0000" stroke="#ff0000" textLength="9" lengthAdjust="spacingAndGlyphs">27</text>
<text x="57.0" y="128.0" fill="#ff0000" stroke="#ff0000" textLength="9" lengthAdjust="spacingAndGlyphs">29</text>
<text x="57.0" y="108.0" fill="#ff0000" stroke="#ff0000" textLength="9" lengthAdjust="spacingAndGlyphs">31</text>
<text x="57.0" y="88.0" fill="#ff0000" stroke="#ff0000" textLength="9" lengthAdjust="spacingAndGlyphs">33</text>
<text x="57.0" y="68.0" fill="#ff0000" stroke="#ff0000" textLength="9" lengthAdjust="spacingAndGlyphs">35</text>
<text x="808.0" y="329.0" fill="#696969" stroke="#696969" stroke-width="0.12" textLength="9" lengthAdjust="spacingAndGlyphs">45</text>
<text x="808.0" y="337.0" fill="#696969" stroke="#696969" stroke-width="0.12" textLength="9" lengthAdjust="spacingAndGlyphs">NE</text>
<text x="808.0" y="290.0" fill="#696969" stroke="#696969" stroke-width="0.12" textLength="9" lengthAdjust="spacingAndGlyphs">90</text>
<text x="812.5" y="298.0" fill="#696969" stroke="#696969" stroke-width="0.12" textLength="4" lengthAdjust="spacingAndGlyphs">E</text>
<text x="808.0" y="251.0" fill="#696969" stroke="#696969" stroke-width="0.12" textLength="14" lengthAdjust="spacingAndGlyphs">135</text>
<text x="808.0" y="259.0" fill="#696969" stroke="#696969" stroke-width="0.12" textLength="9" lengthAdjust="spacingAndGlyphs">SE</text>
<text x="808.0" y="213.0" fill="#696969" stroke="#696969" stroke-width="0.12" textLength="14" lengthAdjust="spacingAndGlyphs">180</text>
<text x="812.5" y="221.0" fill="#696969" stroke="#696969" stroke-width="0.12" textLength="4" lengthAdjust="spacingAndGlyphs">S</text>
<text x="808.0" y="174.0" fill="#696969" stroke="#696969" stroke-width="0.12" textLength="14" lengthAdjust="spacingAndGlyphs">225</text>
<text x="808.0" y="182.0" fill="#696969" stroke="#696969" stroke-width="0.12" textLength="9" lengthAdjust="spacingAndGlyphs">SW</text>
<text x="808.0" y="135.0" fill="#696969" stroke="#696969" stroke-width="0.12" textLength="14" lengthAdjust="spacingAndGlyphs">270</text>
<text x="812.5" y="143.0" fill="#696969" stroke="#696969" stroke-width="0.12" textLength="4" lengthAdjust="spacingAndGlyphs">W</text>
<text x="808.0" y="96.0" fill="#696969" stroke="#696969" stroke-width="0.12" textLength="14" lengthAdjust="spacingAndGlyphs">315</text>
<text x="808.0" y="104.0" fill="#696969" stroke="#696969" stroke-width="0.12" textLength="9" lengthAdjust="spacingAndGlyphs">NW</text>
<text x="808.0" y="58.0" fill="#696969" stroke="#696969" stroke-width="0.12" textLength="14" lengthAdjust="spacingAndGlyphs">360</text>
<text x="812.5" y="66.0" fill="#696969" stroke="#696969" stroke-width="0.12" textLength="4" lengthAdjust="spacingAndGlyphs">N</text>
<text x="828.0" y="368.0" fill="#000000" stroke="#000000" textLength="4" lengthAdjust="spacingAndGlyphs">0</text>
<text x="828.0" y="339.0" fill="#000000" stroke="#000000" textLength="4" lengthAdjust="spacingAndGlyphs">1</text>
<text x="828.0" y="311.0" fill="#000000" stroke="#000000" textLength="4" lengthAdjust="spacingAndGlyphs">2</text>
<text x="828.0" y="283.0" fill="#000000" stroke="#000000" textLength="4" lengthAdjust="spacingAndGlyphs">3</text>
<text x="828.0" y="255.0" fill="#000000" stroke="#000000" textLength="4" lengthAdjust="spacingAndGlyphs">4</text>
<text x="828.0" y="227.0" fill="#000000" stroke="#000000" textLength="4" lengthAdjust="spacingAndGlyphs">5</text>
<text x="828.0" y="198.0" fill="#000000" stroke="#000000" textLength="4" lengthAdjust="spacingAndGlyphs">6</text>
<text x="828.0" y="170.0" fill="#000000" stroke="#000000" textLength="4" lengthAdjust="spacingAndGlyphs">7</text>
<text x="828.0" y="142.0" fill="#000000" stroke="#000000" textLength="4" lengthAdjust="spacingAndGlyphs">8</text>
<text x="828.0" y="114.0" fill="#000000" stroke="#000000" textLength="4" lengthAdjust="spacingAndGlyphs">9</text>
<text x="828.0" y="86.0" fill="#000000" stroke="#000000" textLength="9" lengthAdjust="spacingAndGlyphs">10</text>
<text x="828.0" y="58.0" fill="#000000" stroke="#000000" textLength="9" lengthAdjust="spacingAndGlyphs">11</text>
<text x="848.0" y="368.0" fill="#00bfff" stroke="#00bfff" textLength="4" lengthAdjust="spacingAndGlyphs">0</text>
<text x="848.0" y="58.0" fill="#00bfff" stroke="#00bfff" textLength="4" lengthAdjust="spacingAndGlyphs">1</text>
<text x="863.0" y="368.0" fill="#ffff00" stroke="#ffff00" textLength="4" lengthAdjust="spacingAndGlyphs">0</text>
<text x="863.0" y="333.0" fill="#ffff00" stroke="#ffff00" textLength="4" lengthAdjust="spacingAndGlyphs">1</text>
<text x="863.0" y="299.0" fill="#ffff00" stroke="#ffff00" textLength="4" lengthAdjust="spacingAndGlyphs">2</text>
<text x="863.0" y="264.0" fill="#ffff00" stroke="#ffff00" textLength="4" lengthAdjust="spacingAndGlyphs">3</text>
<text x="863.0" y="230.0" fill="#ffff00" stroke="#ffff00" textLength="4" lengthAdjust="spacingAndGlyphs">4</text>
<text x="863.0" y="195.0" fill="#ffff00" stroke="#ffff00" textLength="4" lengthAdjust="spacingAndGlyphs">5</text>
<text x="863.0" y="161.0" fill="#ffff00" stroke="#ffff00" textLength="4" lengthAdjust="spacingAndGlyphs">6</text>
<text x="863.0" y="126.0" fill="#ffff00" stroke="#ffff00" textLength="4" lengthAdjust="spacingAndGlyphs">7</text>
<text x="863.0" y="92.0" fill="#ffff00" stroke="#ffff00" textLength="4" lengthAdjust="spacingAndGlyphs">8</text>
<text x="863.0" y="58.0" fill="#ffff00" stroke="#ffff00" textLength="4" lengthAdjust="spacingAndGlyphs">9</text>
<text x="878.0" y="368.0" fill="#ff7f00" stroke="#ff7f00" textLength="4" lengthAdjust="spacingAndGlyphs">0</text>
<text x="878.0" y="352.0" fill="#ff7f00" stroke="#ff7f00" textLength="14" lengthAdjust="spacingAndGlyphs">150</text>
<text x="878.0" y="337.0" fill="#ff7f00" stroke="#ff7f00" textLength="14" lengthAdjust="spacingAndGlyphs">300</text>
<text x="878.0" y="321.0" fill="#ff7f00" stroke="#ff7f00" textLength="14" lengthAdjust="spacingAndGlyphs">450</text>
<text x="878.0" y="306.0" fill="#ff7f00" stroke="#ff7f00" textLength="14" lengthAdjust="spacingAndGlyphs">600</text>
<text x="878.0" y="290.0" fill="#ff7f00" stroke="#ff7f00" textLength="14" lengthAdjust="spacingAndGlyphs">750</text>
<text x="878.0" y="275.0" fill="#ff7f00" stroke="#ff7f00" textLength="14" lengthAdjust="spacingAndGlyphs">900</text>
<text x="878.0" y="259.0" fill="#ff7f00" stroke="#ff7f00" textLength="19" lengthAdjust="spacingAndGlyphs">1050</text>
<text x="878.0" y="244.0" fill="#ff7f00" stroke="#ff7f00" textLength="19" lengthAdjust="spacingAndGlyphs">1200</text>
<text x="878.0" y="228.0" fill="#ff7f00" stroke="#ff7f00" textLength="19" lengthAdjust="spacingAndGlyphs">1350</text>
<text x="878.0" y="213.0" fill="#ff7f00" stroke="#ff7f00" textLength="19" lengthAdjust="spacingAndGlyphs">1500</text>
<text x="815.0" y="376.0" fill="#000000" stroke="#000000" textLength="14" lengthAdjust="spacingAndGlyphs" font-style="italic">čas</text>
</g>
<text x="415.2 422.2 430.8 436.2 443.2 451.8 457.2 464.2 471.2 478.2" y="52" font-family="'Liberation Sans', sans-serif" font-weight="bold" font-size="12px" fill="#000" stroke="#000" stroke-width="0.35">28.08.2009</text>
<g font-family="'Liberation Sans', sans-serif" font-weight="bold" font-size="9.5px" fill="#000">
<text transform="translate(73,397) rotate(-90)" textLength="24" lengthAdjust="spacingAndGlyphs">00:00</text>
<text transform="translate(88,397) rotate(-90)" textLength="24" lengthAdjust="spacingAndGlyphs">00:30</text>
<text transform="translate(103,397) rotate(-90)" textLength="24" lengthAdjust="spacingAndGlyphs">01:00</text>
<text transform="translate(119,397) rotate(-90)" textLength="24" lengthAdjust="spacingAndGlyphs">01:30</text>
<text transform="translate(134,397) rotate(-90)" textLength="24" lengthAdjust="spacingAndGlyphs">02:00</text>
<text transform="translate(150,397) rotate(-90)" textLength="24" lengthAdjust="spacingAndGlyphs">02:30</text>
<text transform="translate(165,397) rotate(-90)" textLength="24" lengthAdjust="spacingAndGlyphs">03:00</text>
<text transform="translate(180,397) rotate(-90)" textLength="24" lengthAdjust="spacingAndGlyphs">03:30</text>
<text transform="translate(196,397) rotate(-90)" textLength="24" lengthAdjust="spacingAndGlyphs">04:00</text>
<text transform="translate(211,397) rotate(-90)" textLength="24" lengthAdjust="spacingAndGlyphs">04:30</text>
<text transform="translate(227,397) rotate(-90)" textLength="24" lengthAdjust="spacingAndGlyphs">05:00</text>
<text transform="translate(242,397) rotate(-90)" textLength="24" lengthAdjust="spacingAndGlyphs">05:30</text>
<text transform="translate(258,397) rotate(-90)" textLength="24" lengthAdjust="spacingAndGlyphs">06:00</text>
<text transform="translate(273,397) rotate(-90)" textLength="24" lengthAdjust="spacingAndGlyphs">06:30</text>
<text transform="translate(288,397) rotate(-90)" textLength="24" lengthAdjust="spacingAndGlyphs">07:00</text>
<text transform="translate(304,397) rotate(-90)" textLength="24" lengthAdjust="spacingAndGlyphs">07:30</text>
<text transform="translate(319,397) rotate(-90)" textLength="24" lengthAdjust="spacingAndGlyphs">08:00</text>
<text transform="translate(335,397) rotate(-90)" textLength="24" lengthAdjust="spacingAndGlyphs">08:30</text>
<text transform="translate(350,397) rotate(-90)" textLength="24" lengthAdjust="spacingAndGlyphs">09:00</text>
<text transform="translate(365,397) rotate(-90)" textLength="24" lengthAdjust="spacingAndGlyphs">09:30</text>
<text transform="translate(381,397) rotate(-90)" textLength="24" lengthAdjust="spacingAndGlyphs">10:00</text>
<text transform="translate(396,397) rotate(-90)" textLength="24" lengthAdjust="spacingAndGlyphs">10:30</text>
<text transform="translate(412,397) rotate(-90)" textLength="24" lengthAdjust="spacingAndGlyphs">11:00</text>
<text transform="translate(427,397) rotate(-90)" textLength="24" lengthAdjust="spacingAndGlyphs">11:30</text>
<text transform="translate(443,397) rotate(-90)" textLength="24" lengthAdjust="spacingAndGlyphs">12:00</text>
<text transform="translate(458,397) rotate(-90)" textLength="24" lengthAdjust="spacingAndGlyphs">12:30</text>
<text transform="translate(473,397) rotate(-90)" textLength="24" lengthAdjust="spacingAndGlyphs">13:00</text>
<text transform="translate(489,397) rotate(-90)" textLength="24" lengthAdjust="spacingAndGlyphs">13:30</text>
<text transform="translate(504,397) rotate(-90)" textLength="24" lengthAdjust="spacingAndGlyphs">14:00</text>
<text transform="translate(520,397) rotate(-90)" textLength="24" lengthAdjust="spacingAndGlyphs">14:30</text>
<text transform="translate(535,397) rotate(-90)" textLength="24" lengthAdjust="spacingAndGlyphs">15:00</text>
<text transform="translate(551,397) rotate(-90)" textLength="24" lengthAdjust="spacingAndGlyphs">15:30</text>
<text transform="translate(566,397) rotate(-90)" textLength="24" lengthAdjust="spacingAndGlyphs">16:00</text>
<text transform="translate(581,397) rotate(-90)" textLength="24" lengthAdjust="spacingAndGlyphs">16:30</text>
<text transform="translate(597,397) rotate(-90)" textLength="24" lengthAdjust="spacingAndGlyphs">17:00</text>
<text transform="translate(612,397) rotate(-90)" textLength="24" lengthAdjust="spacingAndGlyphs">17:30</text>
<text transform="translate(628,397) rotate(-90)" textLength="24" lengthAdjust="spacingAndGlyphs">18:00</text>
<text transform="translate(643,397) rotate(-90)" textLength="24" lengthAdjust="spacingAndGlyphs">18:30</text>
<text transform="translate(658,397) rotate(-90)" textLength="24" lengthAdjust="spacingAndGlyphs">19:00</text>
<text transform="translate(674,397) rotate(-90)" textLength="24" lengthAdjust="spacingAndGlyphs">19:30</text>
<text transform="translate(689,397) rotate(-90)" textLength="24" lengthAdjust="spacingAndGlyphs">20:00</text>
<text transform="translate(705,397) rotate(-90)" textLength="24" lengthAdjust="spacingAndGlyphs">20:30</text>
<text transform="translate(720,397) rotate(-90)" textLength="24" lengthAdjust="spacingAndGlyphs">21:00</text>
<text transform="translate(736,397) rotate(-90)" textLength="24" lengthAdjust="spacingAndGlyphs">21:30</text>
<text transform="translate(751,397) rotate(-90)" textLength="24" lengthAdjust="spacingAndGlyphs">22:00</text>
<text transform="translate(766,397) rotate(-90)" textLength="24" lengthAdjust="spacingAndGlyphs">22:30</text>
<text transform="translate(782,397) rotate(-90)" textLength="24" lengthAdjust="spacingAndGlyphs">23:00</text>
<text transform="translate(797,397) rotate(-90)" textLength="24" lengthAdjust="spacingAndGlyphs">23:30</text>
</g>
<g shape-rendering="crispEdges" fill="#000"><rect x="0" y="0" width="900" height="1"/><rect x="0" y="399" width="900" height="1"/><rect x="0" y="0" width="1" height="400"/><rect x="899" y="0" width="1" height="400"/></g>
</svg>
</body></html>
